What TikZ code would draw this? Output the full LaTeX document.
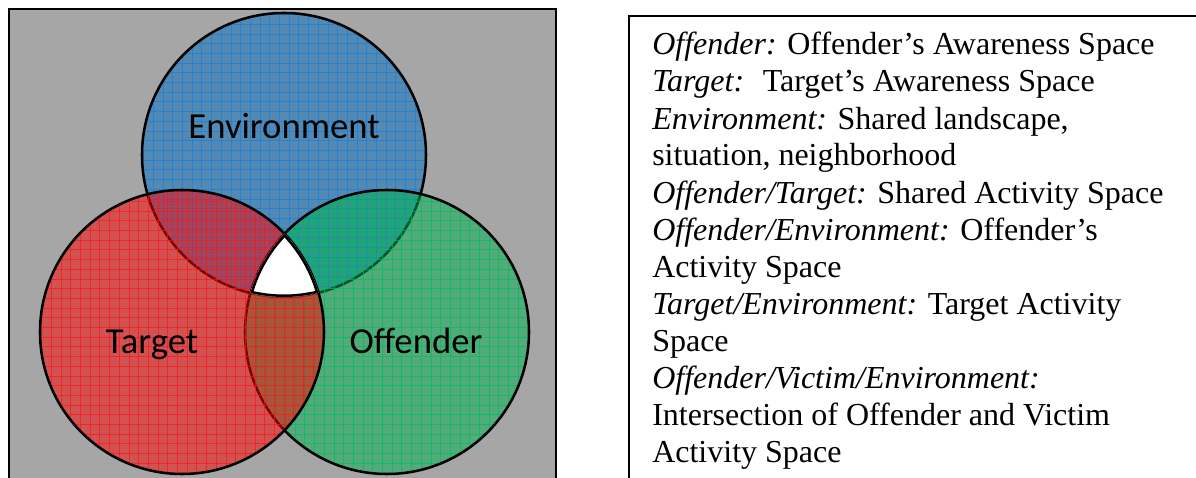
\documentclass[tikz,border=0pt]{standalone}
\usepackage{fontspec}
\setmainfont{Liberation Serif}
\newfontfamily\calib{Carlito}
\definecolor{bggray}{RGB}{166,166,166}
\definecolor{cblue}{RGB}{0,112,192}
\definecolor{cred}{RGB}{255,0,0}
\definecolor{cgreen}{RGB}{0,176,80}
\definecolor{lblue}{RGB}{20,125,225}
\definecolor{lred}{RGB}{255,20,20}
\definecolor{lgreen}{RGB}{0,190,90}
\tikzset{
  circ/.style={line width=1.9pt, draw=black},
  gridln/.style={line width=0.75pt, opacity=0.65},
  lbl/.style={font=\calib\fontsize{27.5pt}{33pt}\selectfont, anchor=base, inner sep=0pt},
  txt/.style={font=\fontsize{24pt}{27.75pt}\selectfont, anchor=base west, inner sep=0pt},
  frame/.style={line width=1.1pt, draw=black},
}
\newcommand{\gridfill}[2]{%
  \begin{scope}
    \clip (#1) circle (142);
    \foreach \i in {0,...,31} {
      \draw[gridln, #2] ($(#1)+(-150+\i*9.7,-150)$) -- ++(0,300);
      \draw[gridln, #2] ($(#1)+(-150,-150+\i*9.7)$) -- ++(300,0);
    }
  \end{scope}}
\usetikzlibrary{calc}
\begin{document}
\begin{tikzpicture}[x=0.75pt,y=-0.75pt]
\fill[white] (0,0) rectangle (1196,478);
\useasboundingbox (0,0) rectangle (1196,478);
\clip (0,0) rectangle (1196,478);
% frames
\draw[frame, fill=bggray] (9,9) rectangle (556,495);
\draw[frame] (629,16) rectangle (1215,495);
% circle centres
\coordinate (E) at (284,155);
\coordinate (T) at (182,332);
\coordinate (O) at (387,332);
% Environment (blue)
\fill[cblue, opacity=0.5] (E) circle (142);
\gridfill{E}{lblue}
\draw[circ] (E) circle (142);
% Offender (green)
\fill[cgreen, opacity=0.5] (O) circle (142);
\gridfill{O}{lgreen}
\draw[circ] (O) circle (142);
% Target (red)
\fill[cred, opacity=0.5] (T) circle (142);
\gridfill{T}{lred}
\draw[circ] (T) circle (142);
% triple intersection
\begin{scope}
  \clip (E) circle (142);
  \clip (T) circle (142);
  \clip (O) circle (142);
  \fill[white] (E) circle (142);
  \draw[black, line width=3.8pt] (E) circle (142) (T) circle (142) (O) circle (142);
\end{scope}
% labels
\node[lbl] (envl) at (284,138) {Environment};
\node[lbl] (tarl) at (152,353) {Target};
\node[lbl] (offl) at (416,353) {Offender};
% legend text
\node[txt] (l1) at (652,55) {\textit{Offender:} Offender’s Awareness Space};
\node[txt] (l2) at (652,92) {\textit{Target:}~ Target’s Awareness Space};
\node[txt] (l3) at (652,129) {\textit{Environment:} Shared landscape,};
\node[txt] (l4) at (652,166) {situation, neighborhood};
\node[txt] (l5) at (652,203) {\textit{Offender/Target:} Shared Activity Space};
\node[txt] (l6) at (652,240) {\textit{Offender/Environment:} Offender’s};
\node[txt] (l7) at (652,277) {Activity Space};
\node[txt] (l8) at (652,314) {\textit{Target/Environment:} Target Activity};
\node[txt] (l9) at (652,351) {Space};
\node[txt] (l10) at (652,388) {\textit{Offender/Victim/Environment:}};
\node[txt] (l11) at (652,425) {Intersection of Offender and Victim};
\node[txt] (l12) at (652,462) {Activity Space};
\end{tikzpicture}
\end{document}
